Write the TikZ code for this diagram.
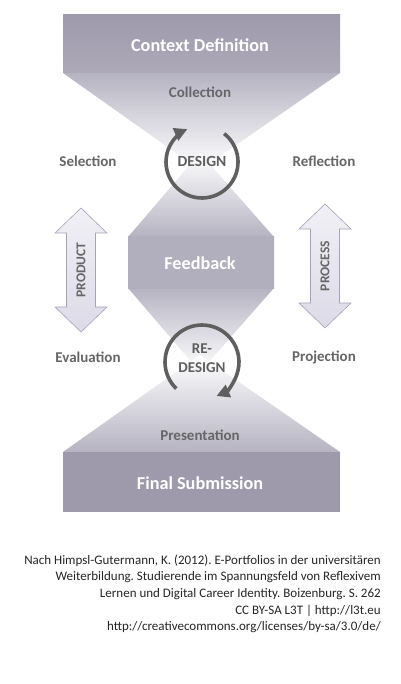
\documentclass[tikz,border=0pt]{standalone}
\usepackage{fontspec}
\setmainfont{Carlito}
\usetikzlibrary{arrows.meta}
\frenchspacing
\definecolor{boxc}{HTML}{9E9AAC}
\definecolor{fadec}{HTML}{B6B3C2}
\definecolor{labc}{HTML}{666666}
\definecolor{cycc}{HTML}{5F5F5F}
\definecolor{arrfill}{HTML}{DCDAE7}
\definecolor{arrline}{HTML}{A6A2BA}
\tikzset{
  big/.style={font=\fontsize{18.2}{21}\selectfont\bfseries, text=white},
  lab/.style={font=\fontsize{15}{17}\selectfont\bfseries, text=labc},
  cyc/.style={draw=cycc, line width=3.6pt, -{Triangle[length=13pt,width=13pt]}},
  dbl/.style={draw=arrline, line width=0.6pt, top color=arrfill!40, bottom color=arrfill},
  rot/.style={font=\fontsize{13.5}{16}\selectfont\bfseries, text=labc, rotate=90},
  cite/.style={font=\fontsize{13}{16.7}\selectfont, text=black!85, anchor=base east, inner sep=0pt}
}
\begin{document}
\begin{tikzpicture}[x=1pt,y=-1pt]
\useasboundingbox (0,0) rectangle (400,684);
\fill[white] (0,0) rectangle (400,684);
% top region
\shade[top color=fadec, bottom color=white] (63,73) -- (340,73) -- (200,170) -- cycle;
\shade[top color=boxc, middle color=boxc, bottom color=boxc!85!white] (63,15) rectangle (340,73);
% feedback octagon
\shade[top color=white, bottom color=fadec] (200,153) -- (274,237) -- (128,237) -- cycle;
\shade[top color=fadec, bottom color=white] (128,288) -- (274,288) -- (200,372) -- cycle;
\shade[top color=boxc!80!white, middle color=boxc, bottom color=boxc!80!white] (128,237) rectangle (274,288);
% bottom region
\shade[top color=white, bottom color=fadec] (200,355) -- (340,452) -- (63,452) -- cycle;
\fill[boxc] (63,452) rectangle (340,512);
% double arrows
\draw[dbl] (81,208) -- (107,233) -- (95.5,233) -- (95.5,307) -- (107,307) -- (81,332) -- (55,307) -- (66.5,307) -- (66.5,233) -- (55,233) -- cycle;
\draw[dbl] (325,204) -- (351,229) -- (339.5,229) -- (339.5,303) -- (351,303) -- (325,328) -- (299,303) -- (310.5,303) -- (310.5,229) -- (299,229) -- cycle;
% cycle arrows
\coordinate (dc) at (202,162);
\coordinate (rc) at (202,362);
\draw[cyc] (dc) ++(-52:36) arc[start angle=-52, end angle=246, radius=36];
\draw[cyc] (rc) ++(-226:37) arc[start angle=-226, end angle=67, radius=37];
% texts
\node[big] (ctx) at (200,45) {Context Definition};
\node[lab] (col) at (200,92) {Collection};
\node[lab] (sel) at (88,161) {Selection};
\node[lab] (ref) at (324,161) {Reflection};
\node[lab, text=cycc, font=\fontsize{15.5}{17}\selectfont\bfseries] (des) at (202,161) {DESIGN};
\node[big] (fb) at (200,263) {Feedback};
\node[rot] (prod) at (81,270) {PRODUCT};
\node[rot] (proc) at (325,266) {PROCESS};
\node[lab] (eva) at (88,357) {Evaluation};
\node[lab] (pro) at (324,357) {Projection};
\node[lab, text=cycc, align=center, font=\fontsize{15}{19}\selectfont\bfseries] (rdes) at (202,358) {RE-\\DESIGN};
\node[lab] (pres) at (200,435) {Presentation};
\node[big] (fin) at (200,483) {Final Submission};
\node[cite] (c1) at (381,564) {Nach Himpsl-Gutermann, K. (2012). E-Portfolios in der universitären};
\node[cite] (c2) at (381,580.7) {Weiterbildung. Studierende im Spannungsfeld von Reflexivem};
\node[cite] (c3) at (381,597.4) {Lernen und Digital Career Identity. Boizenburg. S. 262};
\node[cite] (c4) at (381,614) {CC BY-SA L3T | http://l3t.eu};
\node[cite] (c5) at (381,630.7) {http://creativecommons.org/licenses/by-sa/3.0/de/};
\end{tikzpicture}
\end{document}
